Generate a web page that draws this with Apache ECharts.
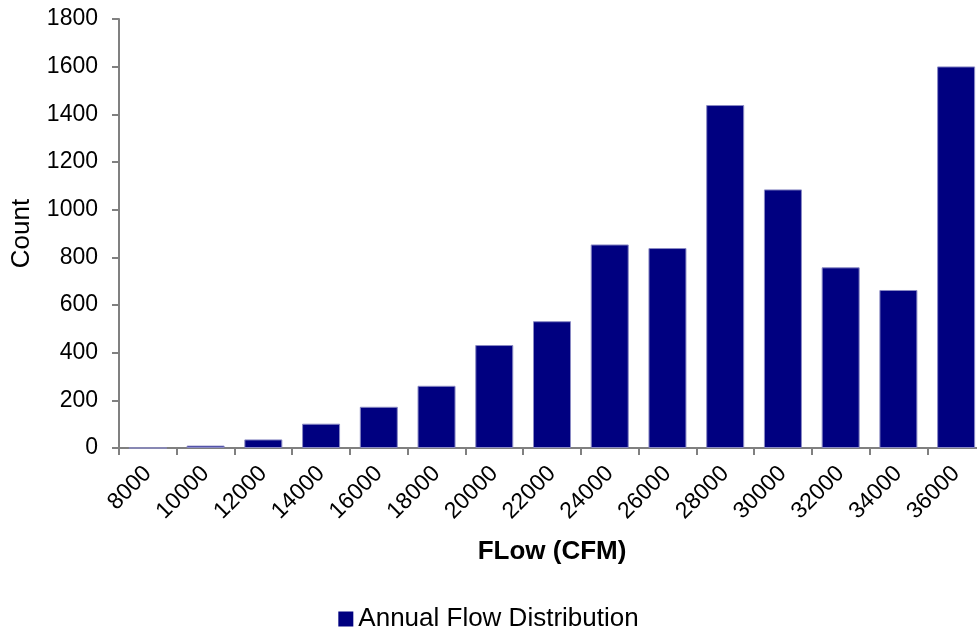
<!DOCTYPE html>
<html>
<head>
<meta charset="utf-8">
<script src="https://cdn.jsdelivr.net/npm/echarts@6/dist/echarts.min.js"></script>
<style>
html,body{margin:0;padding:0;background:#fff;}
#c{width:977px;height:637px;}
</style>
</head>
<body>
<div id="c"></div>
<script>
const categories = ['8000','10000','12000','14000','16000','18000','20000','22000','24000','26000','28000','30000','32000','34000','36000'];
const counts = [0, 10, 36, 102, 173, 261, 432, 532, 854, 839, 1439, 1085, 758, 663, 1601];
const yTicks = {min: 0, max: 1800, interval: 200};
const seriesName = 'Annual Flow Distribution';

const chart = echarts.init(document.getElementById('c'));
const font = 'Liberation Sans';
chart.setOption({
  animation: false,
  backgroundColor: '#ffffff',
  textStyle: {fontFamily: font},
  grid: {left: 119, top: 19, bottom: 189, width: 866, containLabel: false, outerBoundsMode: 'none'},
  legend: {
    bottom: 0,
    left: 'center',
    icon: 'rect',
    itemWidth: 15,
    itemHeight: 15,
    itemGap: 6,
    itemStyle: {borderWidth: 0},
    textStyle: {fontSize: 26, color: '#000', fontFamily: font},
    data: [seriesName]
  },
  xAxis: {
    type: 'category',
    data: categories,
    name: 'FLow (CFM)',
    nameLocation: 'middle',
    nameGap: 91,
    nameTextStyle: {fontSize: 26, fontWeight: 'bold', color: '#000', fontFamily: font, verticalAlign: 'top'},
    axisLine: {lineStyle: {color: '#808080', width: 2}},
    axisTick: {show: true, length: 7, lineStyle: {color: '#808080', width: 2}},
    axisLabel: {rotate: 45, fontSize: 23, color: '#000', margin: 22, interval: 0, fontFamily: font},
    splitLine: {show: false}
  },
  yAxis: {
    type: 'value',
    min: yTicks.min,
    max: yTicks.max,
    interval: yTicks.interval,
    name: 'Count',
    nameLocation: 'middle',
    nameGap: 84,
    nameTextStyle: {fontSize: 26, color: '#000', fontFamily: font},
    axisLine: {show: true, lineStyle: {color: '#808080', width: 2}},
    axisTick: {show: true, length: 7, lineStyle: {color: '#808080', width: 2}},
    axisLabel: {fontSize: 23, color: '#000', margin: 21, fontFamily: font, formatter: function (v) { return String(v); }},
    splitLine: {show: false}
  },
  series: [{
    name: seriesName,
    type: 'bar',
    data: counts,
    barWidth: 38,
    itemStyle: {color: '#000080', borderColor: '#8a8ac4', borderWidth: 1}
  }]
});
</script>
</body>
</html>
